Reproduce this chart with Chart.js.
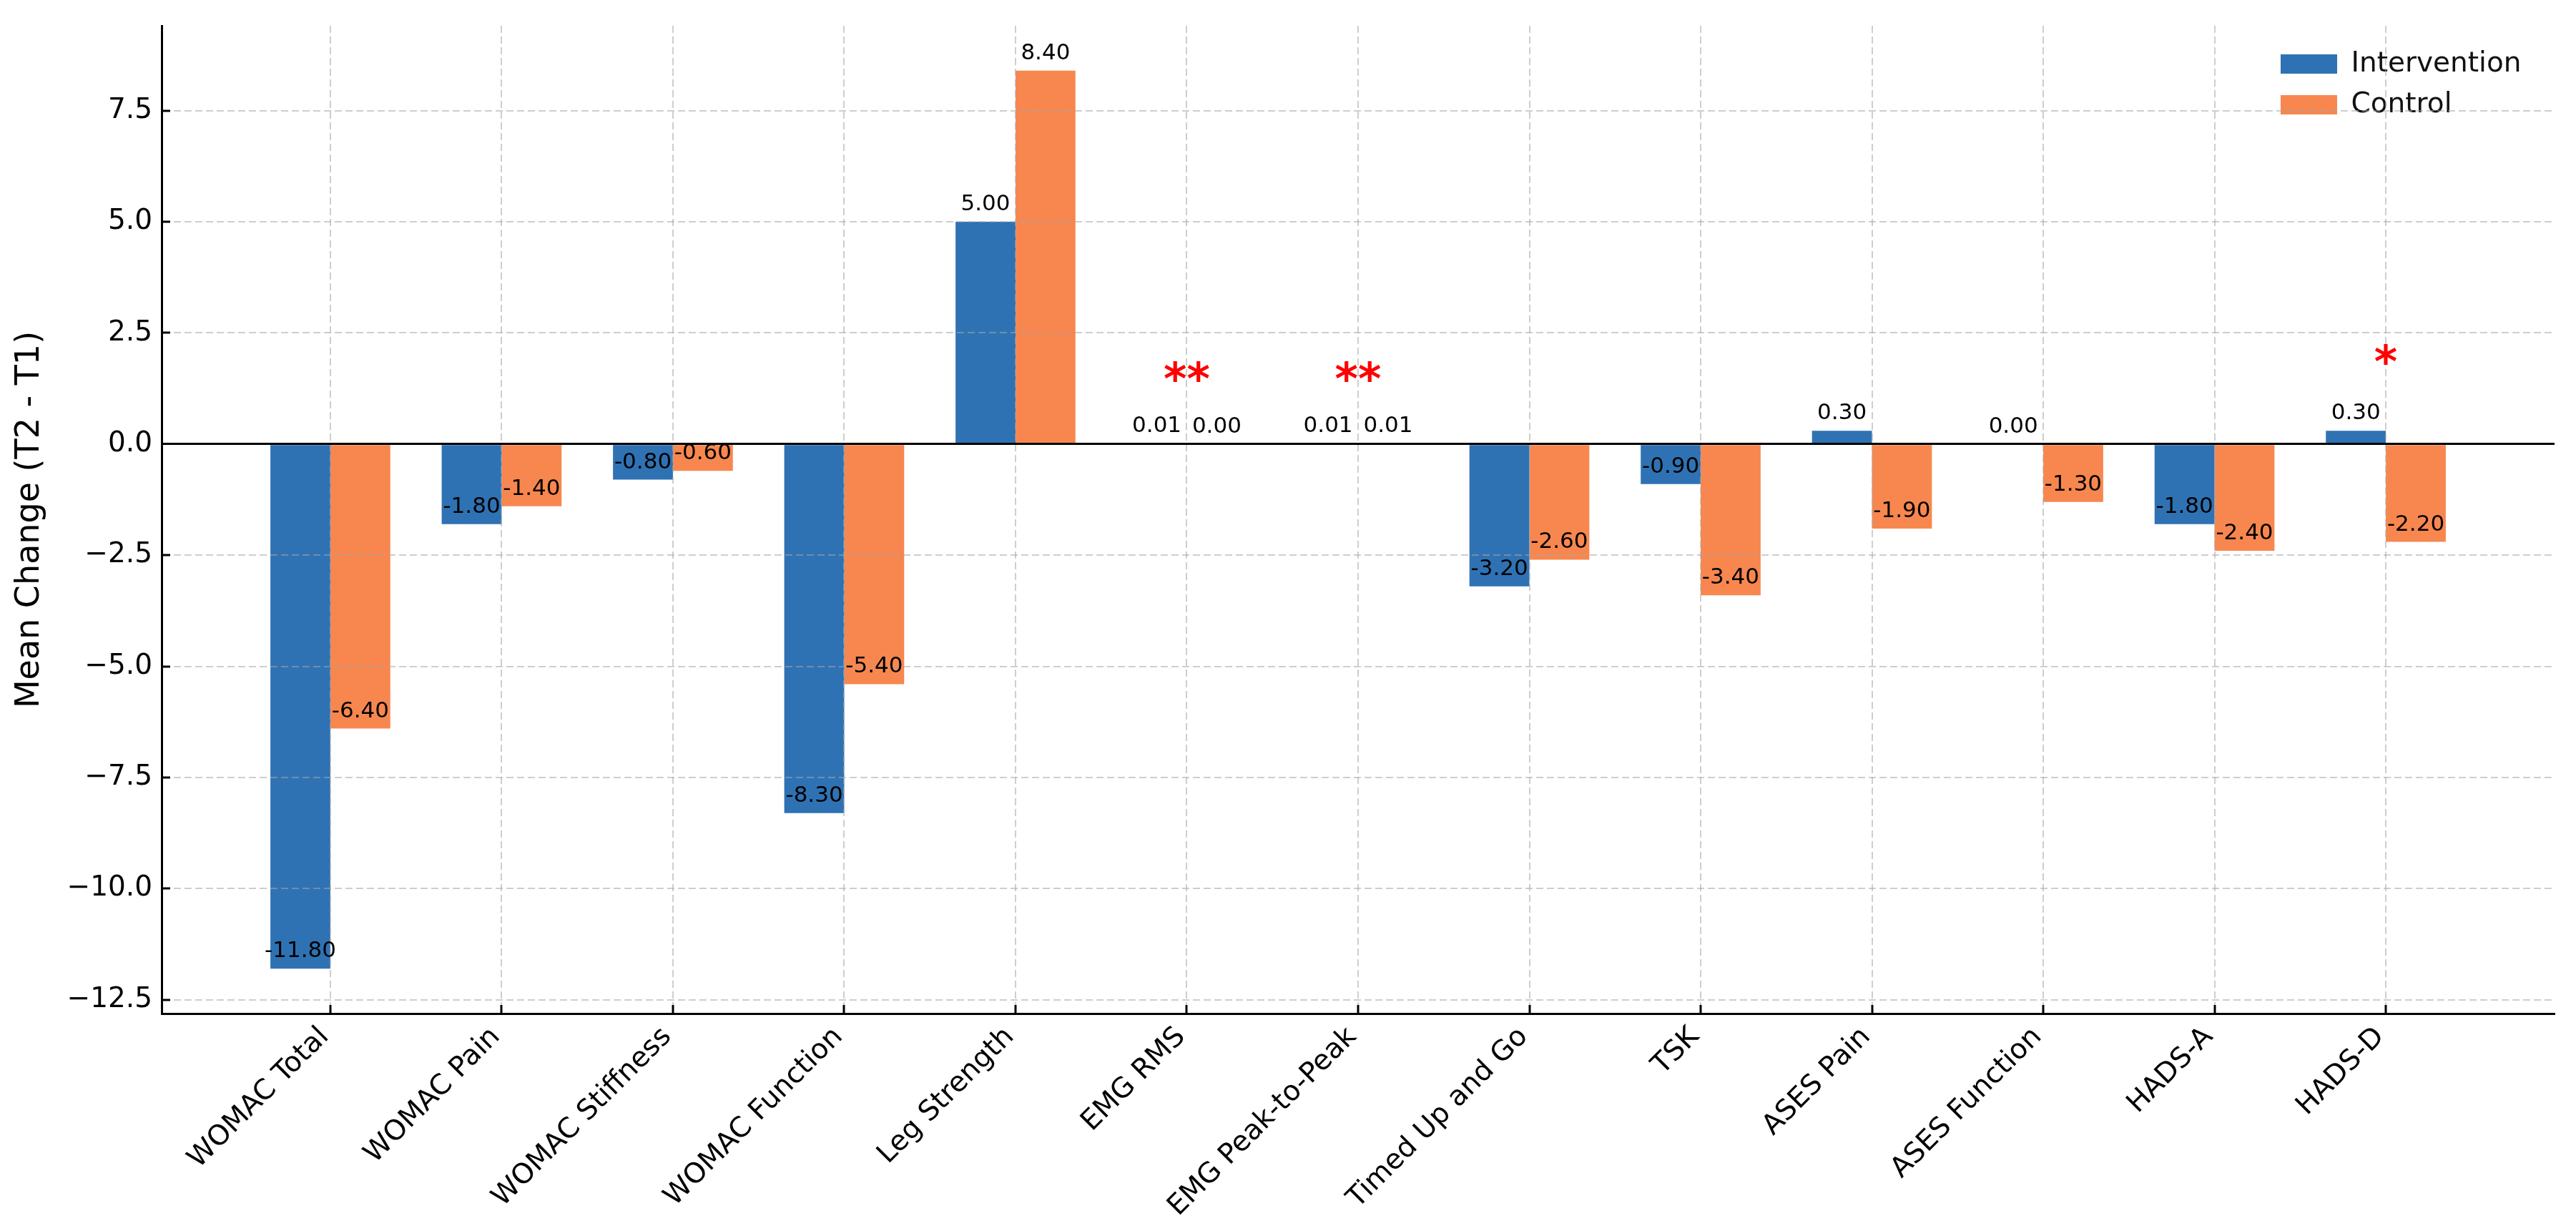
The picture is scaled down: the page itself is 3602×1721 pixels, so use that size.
<!DOCTYPE html>
<html>
<head>
<meta charset="utf-8">
<script src="https://cdn.jsdelivr.net/npm/chart.js@4.4.1/dist/chart.umd.min.js"></script>
<style>
html, body { margin: 0; padding: 0; background: #ffffff; }
canvas { display: block; }
</style>
</head>
<body>
<canvas id="c" width="3602" height="1721" style="width:3602px;height:1721px"></canvas>
<script>
// ---- data ----
const categories = ['WOMAC Total', 'WOMAC Pain', 'WOMAC Stiffness', 'WOMAC Function', 'Leg Strength',
  'EMG RMS', 'EMG Peak-to-Peak', 'Timed Up and Go', 'TSK', 'ASES Pain', 'ASES Function', 'HADS-A', 'HADS-D'];
const intervention = [-11.8, -1.8, -0.8, -8.3, 5.0, 0.01, 0.01, -3.2, -0.9, 0.3, 0.0, -1.8, 0.3];
const control = [-6.4, -1.4, -0.6, -5.4, 8.4, 0.0, 0.01, -2.6, -3.4, -1.9, -1.3, -2.4, -2.2];
const yTicks = [-12.5, -10, -7.5, -5, -2.5, 0, 2.5, 5, 7.5];
const sigLabels = ['', '', '', '', '', '**', '**', '', '', '', '', '', '*'];
const sigY = [null, null, null, null, null, 1.65, 1.65, null, null, null, null, null, 2.04];
const yRange = [-12.81, 9.41];
const xRange = [-0.985, 12.985];

// ---- style ----
const FONT = "'DejaVu Sans', sans-serif";
const BLUE = '#2f72b4';
const ORANGE = '#f7874f';
const GRID = 'rgba(165,165,165,0.55)';
Chart.defaults.font.family = FONT;
Chart.defaults.color = '#000';

function fmtY(v) {
  return (v < 0 ? '\u2212' : '') + Math.abs(v).toFixed(1);
}
const isZero = (c) => c.tick && Math.abs(c.tick.value) < 1e-9;

const valueLabels = {
  id: 'valueLabels',
  afterDraw(chart) {
    const ctx = chart.ctx;
    ctx.save();
    ctx.font = '31px ' + FONT;
    ctx.fillStyle = '#000';
    ctx.textAlign = 'center';
    ctx.textBaseline = 'alphabetic';
    chart.data.datasets.forEach((ds, i) => {
      const meta = chart.getDatasetMeta(i);
      meta.data.forEach((bar, j) => {
        const v = ds.data[j].y;
        ctx.fillText(v.toFixed(2), bar.x, bar.y - 16);
      });
    });
    const xs = chart.scales.x, ys = chart.scales.y;
    ctx.font = 'bold 62px ' + FONT;
    ctx.fillStyle = '#ff0000';
    sigLabels.forEach((s, i) => {
      if (!s) return;
      ctx.fillText(s, xs.getPixelForValue(i), ys.getPixelForValue(sigY[i]) + 33);
    });
    ctx.restore();
  }
};

const legendPlace = {
  id: 'legendPlace',
  afterLayout(chart) {
    const lg = chart.legend;
    const ca = chart.chartArea;
    if (!lg) return;
    const w = lg.width, h = lg.height;
    lg.left = ca.right - 401;
    lg.top = ca.top + 16;
    lg.right = lg.left + w;
    lg.bottom = lg.top + h;
  }
};

new Chart(document.getElementById('c'), {
  type: 'bar',
  data: {
    datasets: [
      { label: 'Intervention', data: intervention.map((v, i) => ({ x: i, y: v })),
        backgroundColor: BLUE, borderWidth: 0, categoryPercentage: 0.7, barPercentage: 1.0 },
      { label: 'Control', data: control.map((v, i) => ({ x: i, y: v })),
        backgroundColor: ORANGE, borderWidth: 0, categoryPercentage: 0.7, barPercentage: 1.0 }
    ]
  },
  options: {
    responsive: false,
    devicePixelRatio: 1,
    animation: false,
    events: [],
    layout: { padding: { left: 0, top: 36, right: 30, bottom: 0 } },
    plugins: {
      tooltip: { enabled: false },
      legend: {
        position: 'chartArea',
        align: 'start',
        labels: { boxWidth: 79, boxHeight: 27, padding: 18, color: '#111', font: { size: 39 } }
      }
    },
    scales: {
      x: {
        type: 'linear',
        bounds: 'data',
        min: xRange[0],
        max: xRange[1],
        offset: false,
        afterBuildTicks: (s) => { s.ticks = categories.map((_, i) => ({ value: i })); },
        afterFit: (s) => { s.height = 304; s.paddingLeft = 0; s.paddingRight = 0; s.paddingTop = 0; s.paddingBottom = 0; },
        ticks: {
          autoSkip: false, minRotation: 45, maxRotation: 45, padding: 22, labelOffset: -8,
          font: { size: 39 }, color: '#000',
          callback: (v) => categories[v] !== undefined ? categories[v] : ''
        },
        grid: { offset: false, color: GRID, lineWidth: 2, drawTicks: true, tickLength: -12, tickColor: '#000', tickWidth: 3, z: 1 },
        border: { display: true, color: '#000', width: 3, dash: [10, 5], z: 1 }
      },
      y: {
        type: 'linear',
        bounds: 'data',
        min: yRange[0],
        max: yRange[1],
        afterBuildTicks: (s) => { s.ticks = yTicks.map(v => ({ value: v })); },
        afterFit: (s) => { s.width = 226; s.paddingTop = 0; s.paddingBottom = 0; s.paddingLeft = 0; s.paddingRight = 0; },
        ticks: { padding: 25, font: { size: 39 }, color: '#000', callback: (v) => fmtY(v) },
        grid: {
          offset: false,
          color: (c) => isZero(c) ? '#000' : GRID,
          lineWidth: (c) => isZero(c) ? 3 : 2,
          drawTicks: true, tickLength: -12, tickColor: '#000', tickWidth: 3, z: 1
        },
        border: { display: true, color: '#000', width: 3, dash: (c) => isZero(c) ? [] : [10, 5], z: 1 },
        title: { display: true, text: 'Mean Change (T2 - T1)', color: '#000', font: { size: 46 }, padding: { top: 14, bottom: 0 } }
      }
    }
  },
  plugins: [valueLabels, legendPlace]
});
</script>
</body>
</html>
